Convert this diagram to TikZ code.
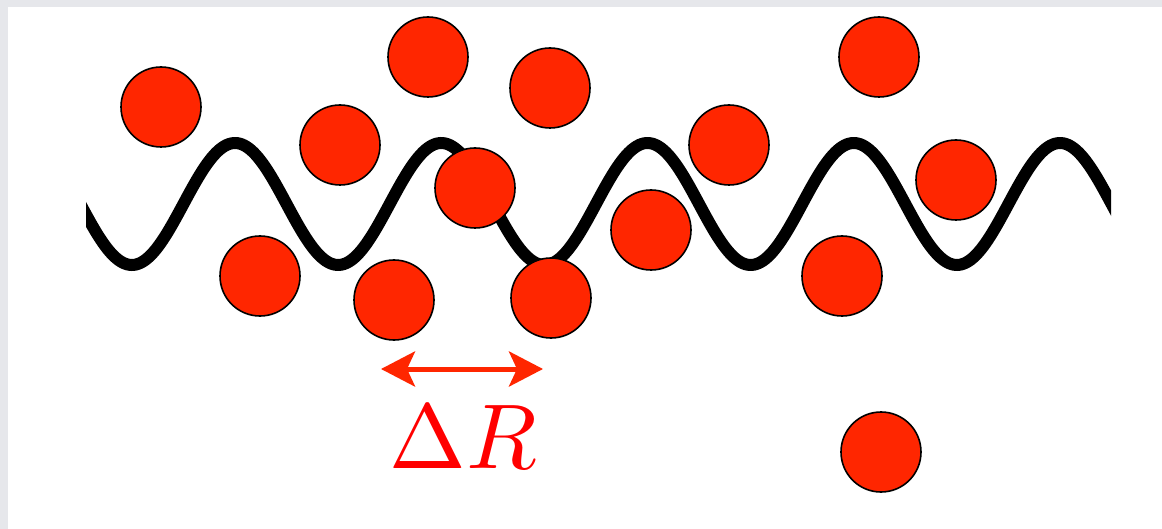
\documentclass[tikz,border=0pt]{standalone}
\usepackage{tikz}
\usetikzlibrary{arrows.meta}
\definecolor{ballred}{RGB}{255,38,0}
\definecolor{backgray}{RGB}{230,231,235}
\tikzset{
  ball/.style={circle, draw=black, line width=1.6pt, fill=ballred, minimum size=80pt, inner sep=0pt},
  wave/.style={line width=12pt, black},
  darrow/.style={ballred, line width=5pt, {Stealth[length=34pt,width=35pt,inset=8pt]}-{Stealth[length=34pt,width=35pt,inset=8pt]}}
}

\begin{document}
\begin{tikzpicture}[x=1pt,y=-1pt]
		\useasboundingbox (0,0) rectangle (1162,529);
		\fill[backgray] (0,0) rectangle (1162,529);
		\fill[white] (8,7) rectangle (1162,529);
		% the wave
		\begin{scope}
			\clip (86,0) rectangle (1111,529);
			\draw[wave] plot[domain=70:1125, samples=240, smooth] (\x, {204-61*cos(1.74545*(\x-235))});
		\end{scope}
		% the balls
		\node[ball] (b1) at (161,107) {};
		\node[ball] (b2) at (428,57) {};
		\node[ball] (b3) at (550,88) {};
		\node[ball] (b4) at (340,145) {};
		\node[ball] (b5) at (475,188) {};
		\node[ball] (b6) at (729,145) {};
		\node[ball] (b7) at (879,57) {};
		\node[ball] (b8) at (956,180) {};
		\node[ball] (b9) at (651,230) {};
		\node[ball] (b10) at (260,276) {};
		\node[ball] (b11) at (394,300) {};
		\node[ball] (b12) at (551,298) {};
		\node[ball] (b13) at (842,276) {};
		\node[ball] (b14) at (881,452) {};
		% spacing
		\coordinate (al) at (381,369);
		\coordinate (ar) at (543,369);
		\draw[darrow] (al) -- (ar);
		\node[text=red, anchor=base, inner sep=0pt] (dr) at (463,468) {\scalebox{9.2}{$\Delta R$}};
	\end{tikzpicture}
\end{document}
